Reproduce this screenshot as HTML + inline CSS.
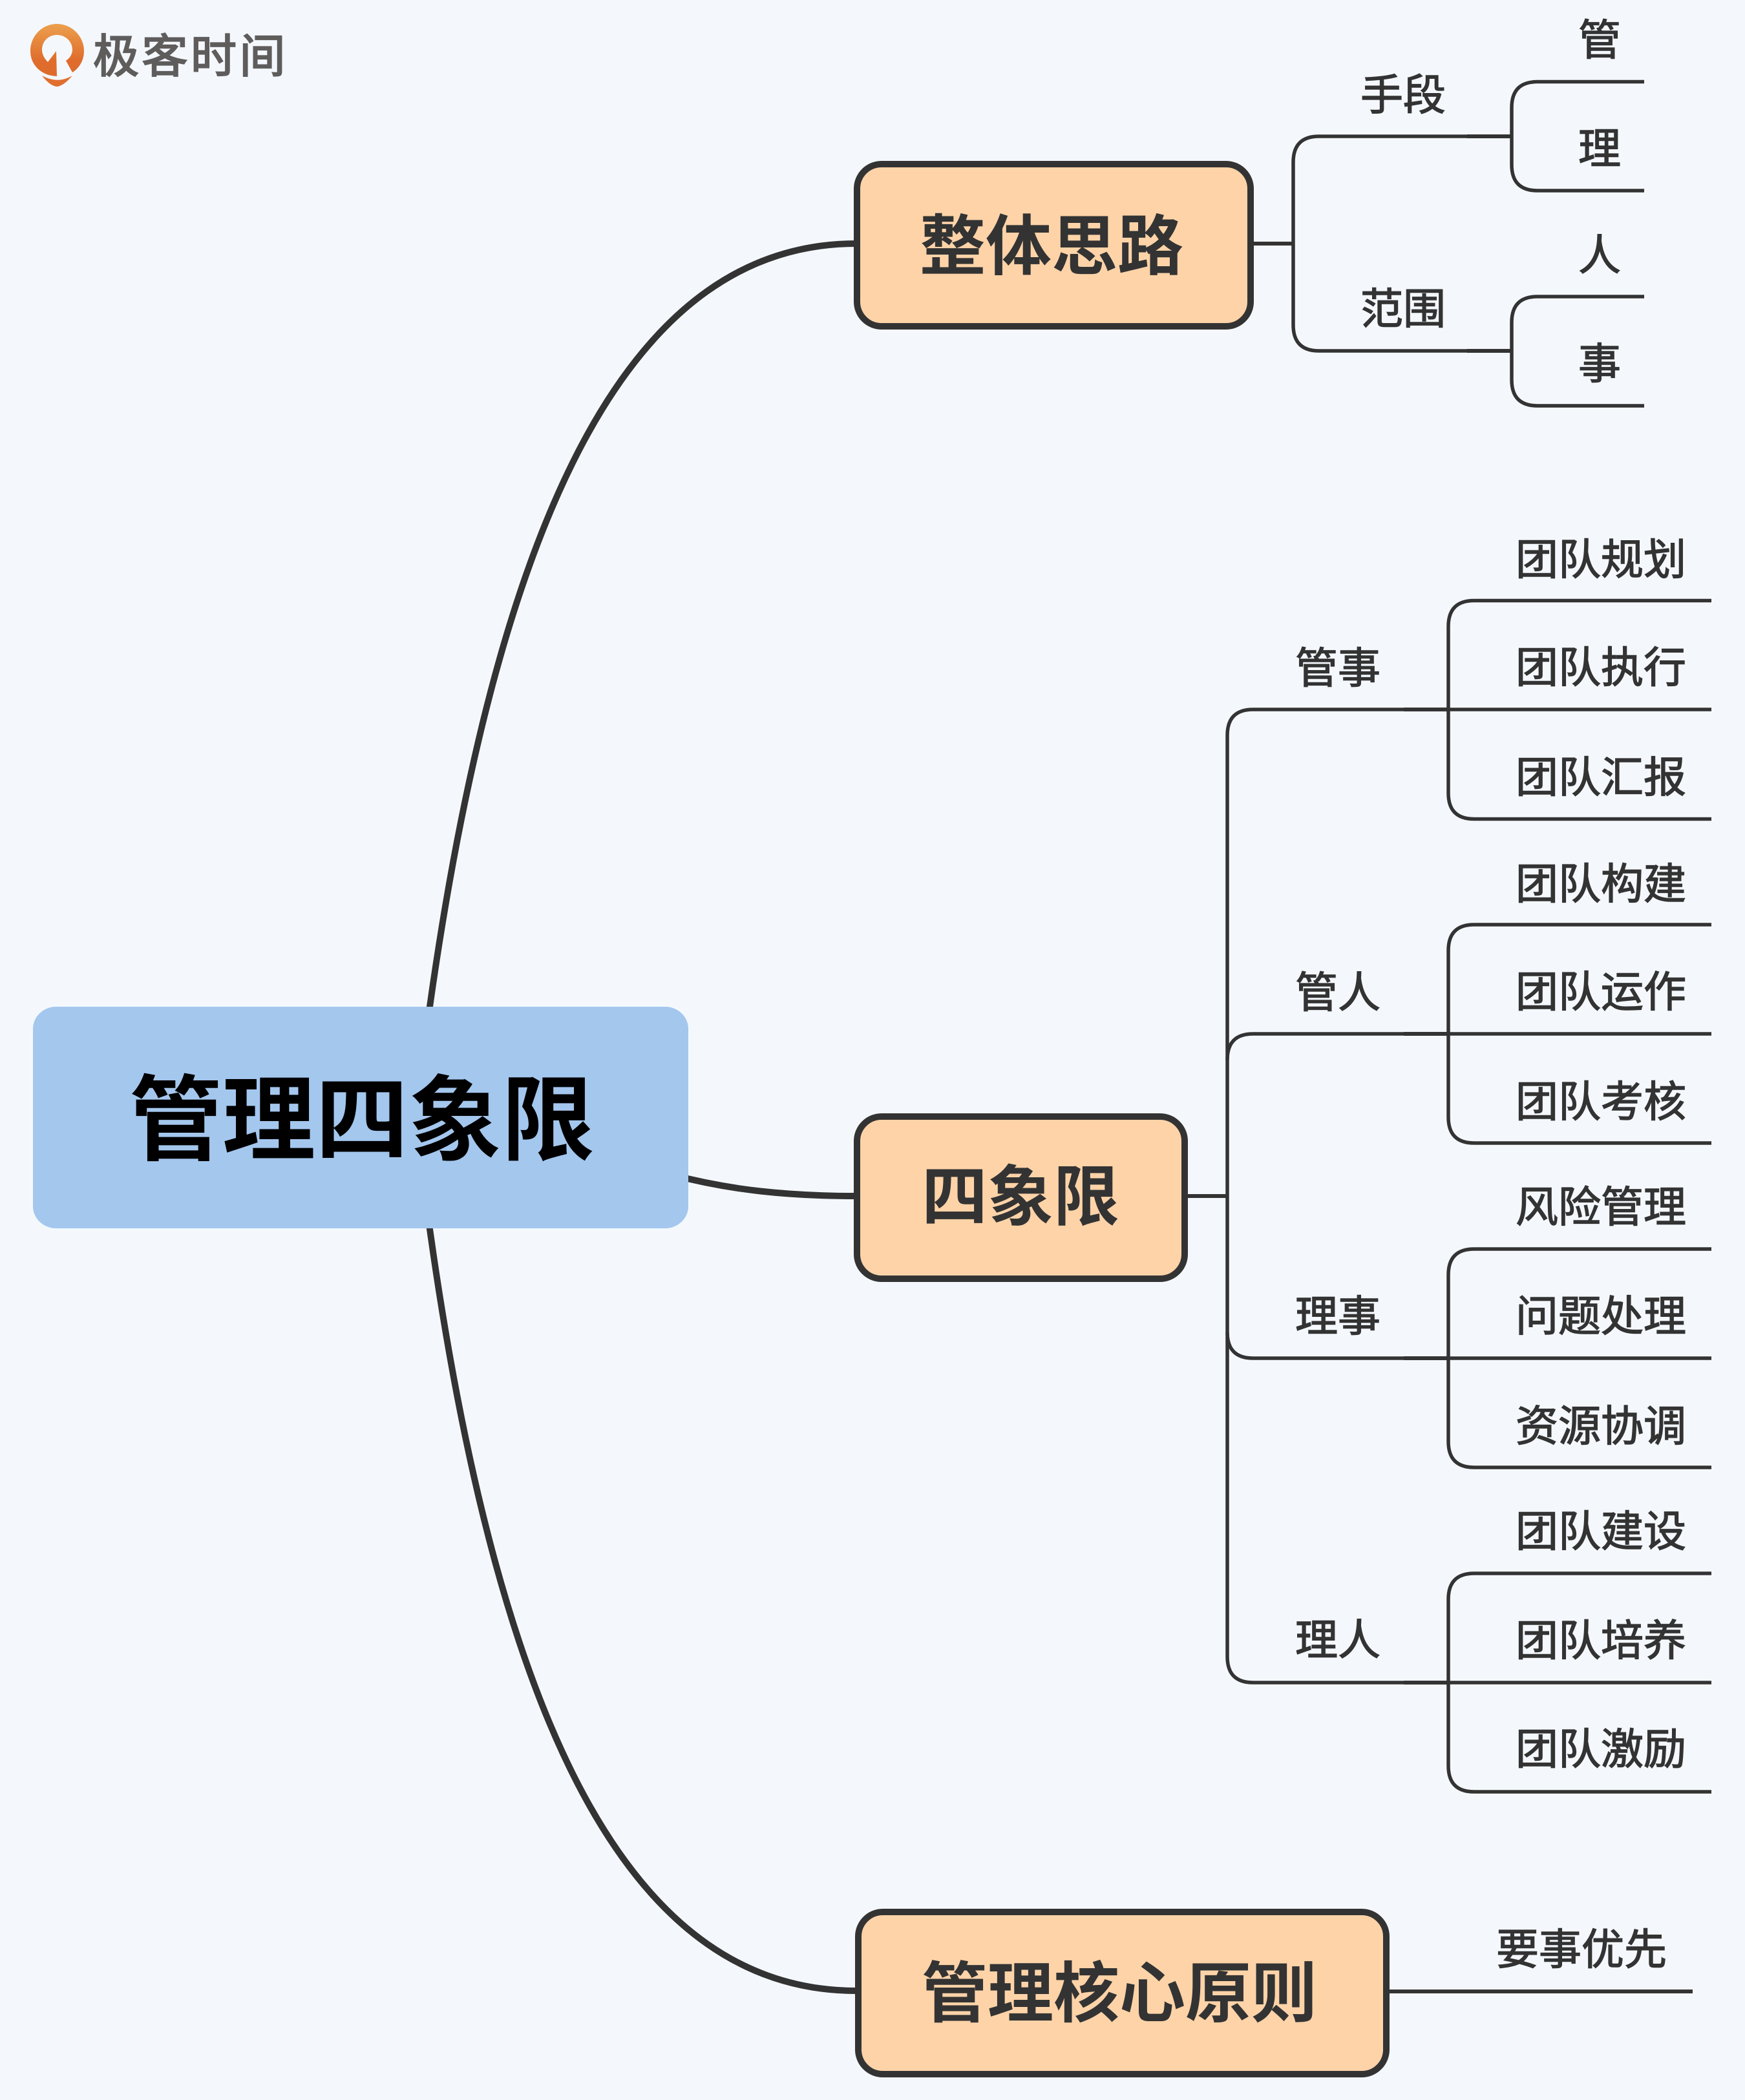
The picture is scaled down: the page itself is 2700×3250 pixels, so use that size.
<!DOCTYPE html>
<html lang="zh"><head><meta charset="utf-8"><style>
html,body{margin:0;padding:0;background:#f4f8fd}
svg{display:block}
text{font-family:"Liberation Sans","Noto Sans CJK SC",sans-serif}
.l{font-size:66px;fill:#333;stroke:#333;stroke-width:1.4}
.b{font-size:102px;font-weight:700;fill:#333}
</style></head><body>
<svg xmlns="http://www.w3.org/2000/svg" width="2700" height="3250" viewBox="0 0 2700 3250">
<defs><linearGradient id="g" x1="0" y1="0" x2="0" y2="1"><stop offset="0" stop-color="#eca04e"/><stop offset=".7" stop-color="#df6c2c"/><stop offset="1" stop-color="#de6b2c"/></linearGradient></defs>
<rect width="2700" height="3250" fill="#f4f8fd"/>
<!-- logo -->
<path fill="url(#g)" fill-rule="evenodd" d="M88 37C111 37 130 56 130 79C130 94 122 106 112 112L102 94C108 90 112 84 112 77C112 64 101 54 88 54C75 54 65 64 65 77C65 84 69 91 74 96L87 79L88 118C63 117 47 100 47 79C47 56 65 37 88 37Z"/>
<path fill="#e06f30" d="M65 117C82 126 96 126 112 117C105 125 97 133 88 134C79 133 71 125 65 117Z"/>
<text x="144" y="112" font-size="71" letter-spacing="4.500" fill="#5f5c5c" stroke="#5f5c5c" stroke-width="2.2">极客时间</text>
<!-- main curves -->
<g fill="none" stroke="#333" stroke-width="10">
<path d="M664 1565C775 770 985 377 1325 377"/>
<path d="M664 1895C775 2695 985 3081 1325 3081"/>
<path d="M1040 1818C1130 1842 1220 1851 1325 1851"/>
</g>
<!-- root -->
<rect x="51" y="1558" width="1014" height="343" rx="36" ry="34" fill="#a4c7ee"/>
<text x="200" y="1784" font-size="144" font-weight="700" fill="#000">管理四象限</text>
<!-- branch lines -->
<g fill="none" stroke="#333" stroke-width="5.500">
<path stroke-width="6" d="M1938 377H2001"/>
<path d="M2339 211H2041Q2001 211 2001 251V503Q2001 543 2041 543H2339"/>
<path d="M2544 126.500H2379Q2339 126.500 2339 166.500V255Q2339 295 2379 295H2544"/>
<path d="M2544 459H2379Q2339 459 2339 499V588Q2339 628 2379 628H2544"/>
<path stroke-width="6" d="M1837 1851H1899"/>
<path d="M2241 1098H1939Q1899 1098 1899 1138V2564Q1899 2604 1939 2604H2241"/>
<path d="M2241 1600H1939Q1899 1600 1899 1640"/>
<path d="M2241 2102H1939Q1899 2102 1899 2062"/>
<path d="M2648 929.500H2281Q2241 929.500 2241 969.500V1227.500Q2241 1267.500 2281 1267.500H2648M2241 1098H2648"/>
<path d="M2648 1431H2281Q2241 1431 2241 1471V1729Q2241 1769 2281 1769H2648M2241 1600H2648"/>
<path d="M2648 1933H2281Q2241 1933 2241 1973V2231Q2241 2271 2281 2271H2648M2241 2102H2648"/>
<path d="M2648 2435H2281Q2241 2435 2241 2475V2733Q2241 2773 2281 2773H2648M2241 2604H2648"/>
<path stroke-width="6" d="M2172 1098H2241M2172 1600H2241M2172 2102H2241M2172 2604H2241M2270 211H2339M2270 543H2339"/>
<path stroke-width="6" d="M2150 3082H2619"/>
</g>
<!-- branch boxes -->
<g fill="#fed3a8" stroke="#333" stroke-width="10">
<rect x="1326" y="254" width="609" height="251" rx="38"/>
<rect x="1326" y="1728" width="507" height="251" rx="38"/>
<rect x="1328" y="2959" width="817" height="251" rx="38"/>
</g>
<text class="b" x="1423" y="417">整体思路</text>
<text class="b" x="1426" y="1888">四象限</text>
<text class="b" x="1426" y="3121">管理核心原则</text>
<!-- labels -->
<g class="l">
<text class="l" x="2105" y="170">手段</text>
<text class="l" x="2105" y="501">范围</text>
<text class="l" x="2442" y="85">管</text>
<text class="l" x="2442" y="253">理</text>
<text class="l" x="2442" y="418">人</text>
<text class="l" x="2442" y="586">事</text>
<text class="l" x="2004" y="1057">管事</text>
<text class="l" x="2004" y="1559">管人</text>
<text class="l" x="2004" y="2060">理事</text>
<text class="l" x="2004" y="2561">理人</text>
<text class="l" x="2345" y="889">团队规划</text>
<text class="l" x="2345" y="1056">团队执行</text>
<text class="l" x="2345" y="1226">团队汇报</text>
<text class="l" x="2345" y="1391">团队构建</text>
<text class="l" x="2345" y="1558">团队运作</text>
<text class="l" x="2345" y="1728">团队考核</text>
<text class="l" x="2345" y="1891">风险管理</text>
<text class="l" x="2345" y="2060">问题处理</text>
<text class="l" x="2345" y="2230">资源协调</text>
<text class="l" x="2345" y="2393">团队建设</text>
<text class="l" x="2345" y="2562">团队培养</text>
<text class="l" x="2345" y="2730">团队激励</text>
<text class="l" x="2315" y="3040">要事优先</text>
</g>
</svg>
</body></html>
